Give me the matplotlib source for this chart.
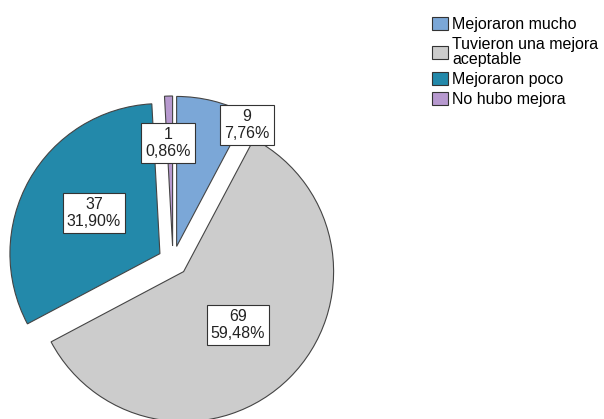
import matplotlib.pyplot as plt
from matplotlib.patches import Patch

plt.rcParams['font.family'] = ['Liberation Sans', 'DejaVu Sans']

categorias = ['Mejoraron mucho', 'Tuvieron una mejora\naceptable', 'Mejoraron poco', 'No hubo mejora']
conteos = [9, 69, 37, 1]
colores = ['#7ba7d7', '#cccccc', '#2389aa', '#b799cf']

# posiciones de las etiquetas (relativas al centro, en radios)
pos_etiquetas = [(0.493, 0.907), (0.433, -0.427), (-0.527, 0.32), (-0.033, 0.787)]

total = sum(conteos)

fig = plt.figure(figsize=(6.04, 4.19), dpi=100)
ax = fig.add_axes([0, 0, 1, 1])

ax.pie(conteos, colors=colores, startangle=90, counterclock=False,
       explode=[0.1] * len(conteos), radius=1,
       wedgeprops=dict(edgecolor='#444444', linewidth=0.8))

for n, (x, y) in zip(conteos, pos_etiquetas):
    pct = f"{100 * n / total:.2f}".replace('.', ',')
    ax.text(x, y, f"{n}\n{pct}%", ha='center', va='center', fontsize=11.5,
            color='#222222', linespacing=1.1,
            bbox=dict(boxstyle='square,pad=0.25', fc='white', ec='#333333', lw=0.8))

ax.set_xlim(-173 / 150, 431 / 150)
ax.set_ylim(-158 / 150, 261 / 150)
ax.set_aspect('auto')
ax.axis('off')

manejadores = [Patch(facecolor=c, edgecolor='#333333', linewidth=0.8) for c in colores]
leg = fig.legend(manejadores, categorias, loc='upper left', bbox_to_anchor=(432 / 604, 1 - 17 / 419),
                 frameon=False, fontsize=11.5, handlelength=1.0, handleheight=0.9,
                 handletextpad=0.25, labelspacing=0.32, borderpad=0, borderaxespad=0)
for t in leg.get_texts():
    t.set_linespacing(0.95)

plt.savefig('out.png', dpi=100)
